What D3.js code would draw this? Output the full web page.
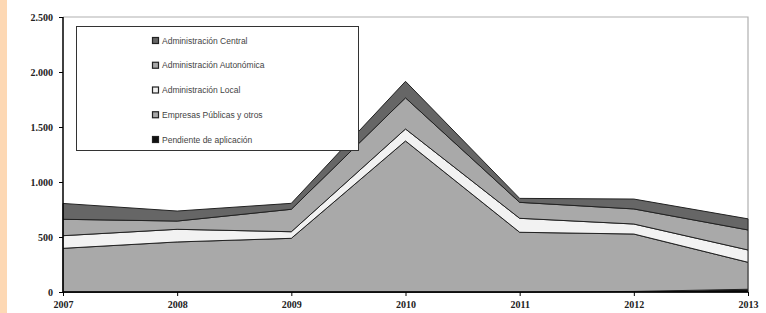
<!DOCTYPE html>
<html><head><meta charset="utf-8">
<script src="https://cdn.jsdelivr.net/npm/d3@7"></script>
<style>body{margin:0;background:#fff;}svg{display:block;}</style>
</head><body>
<svg id="c" width="766" height="313"></svg>
<script>
const years = ["2007","2008","2009","2010","2011","2012","2013"];
const seriesNames = ["Pendiente de aplicación","Empresas Públicas y otros","Administración Local","Administración Autonómica","Administración Central"];
const pendiente   = [0, 0, 0, 0, 0, 5, 25];
const empresas    = [397, 455, 488, 1373, 543, 522, 245];
const local       = [115, 115, 60, 109, 127, 91, 112];
const autonomica  = [149, 75, 204, 283, 145, 137, 182];
const central     = [144, 91, 54, 150, 36, 90, 101];
const yTicks = [0, 500, 1000, 1500, 2000, 2500];
const colors = ["#111111", "#a9a9a9", "#f2f2f2", "#a9a9a9", "#666666"];

const values = [pendiente, empresas, local, autonomica, central];
const table = years.map((y, i) => {
  const o = {year: y};
  seriesNames.forEach((n, k) => o[n] = values[k][i]);
  return o;
});

const svg = d3.select("#c");
svg.append("rect").attr("x",0).attr("y",0).attr("width",7).attr("height",313).attr("fill","#fdd8b4");

const m = {l:63, r:748, t:17, b:292};
const x = d3.scalePoint().domain(years).range([m.l, m.r]);
const y = d3.scaleLinear().domain([0, 2500]).range([m.b, m.t]);

// plot frame (top/right gray)
svg.append("path").attr("d", `M${m.l},${m.t}H${m.r}V${m.b}`).attr("fill","none").attr("stroke","#b0b0b0").attr("stroke-width",1.2);

const stack = d3.stack().keys(seriesNames)(table);
const area = d3.area().x((d,i) => x(years[i])).y0(d => y(d[0])).y1(d => y(d[1]));
svg.append("g").selectAll("path").data(stack).join("path")
  .attr("d", area).attr("fill", (d,i) => colors[i])
  .attr("stroke", "#222").attr("stroke-width", 1).attr("stroke-linejoin","round");

// axes
const fontSerif = "'Liberation Serif','Times New Roman',serif";
const yAxis = svg.append("g").attr("transform", `translate(${m.l},0)`)
  .call(d3.axisLeft(y).tickValues(yTicks).tickSize(4).tickPadding(6)
    .tickFormat(d => d3.format(",")(d).replace(/,/g, ".")));
const xAxis = svg.append("g").attr("transform", `translate(0,${m.b})`)
  .call(d3.axisBottom(x).tickSize(4).tickPadding(5));
[yAxis, xAxis].forEach(g => {
  g.select(".domain").attr("stroke","#000").attr("stroke-width",1.5);
  g.selectAll(".tick line").attr("stroke","#000");
  g.selectAll("text").attr("font-family", fontSerif).attr("font-weight","bold")
    .attr("font-size", 10).attr("fill","#222");
});
xAxis.select(".domain").attr("d", `M${m.l},0H${m.r}`);
yAxis.select(".domain").attr("d", `M0,${m.b}V${m.t}`);

// legend
const lg = svg.append("g");
lg.append("rect").attr("x",76.5).attr("y",26.5).attr("width",282).attr("height",124)
  .attr("fill","#fff").attr("stroke","#333").attr("stroke-width",1);
const legendOrder = seriesNames.map((n,i) => ({n, c: colors[i]})).reverse();
const ly = d3.scalePoint().domain(legendOrder.map(d => d.n)).range([40.5, 139.5]);
const items = lg.selectAll("g").data(legendOrder).join("g")
  .attr("transform", d => `translate(152,${ly(d.n)})`);
items.append("rect").attr("x",0.5).attr("y",-3).attr("width",6).attr("height",6)
  .attr("fill", d => d.c).attr("stroke","#222").attr("stroke-width",1.2);
items.append("text").attr("x",10).attr("y",3).text(d => d.n)
  .attr("font-family","'Liberation Sans',Arial,sans-serif").attr("font-size",8.5).attr("fill","#444");
</script>
</body></html>
